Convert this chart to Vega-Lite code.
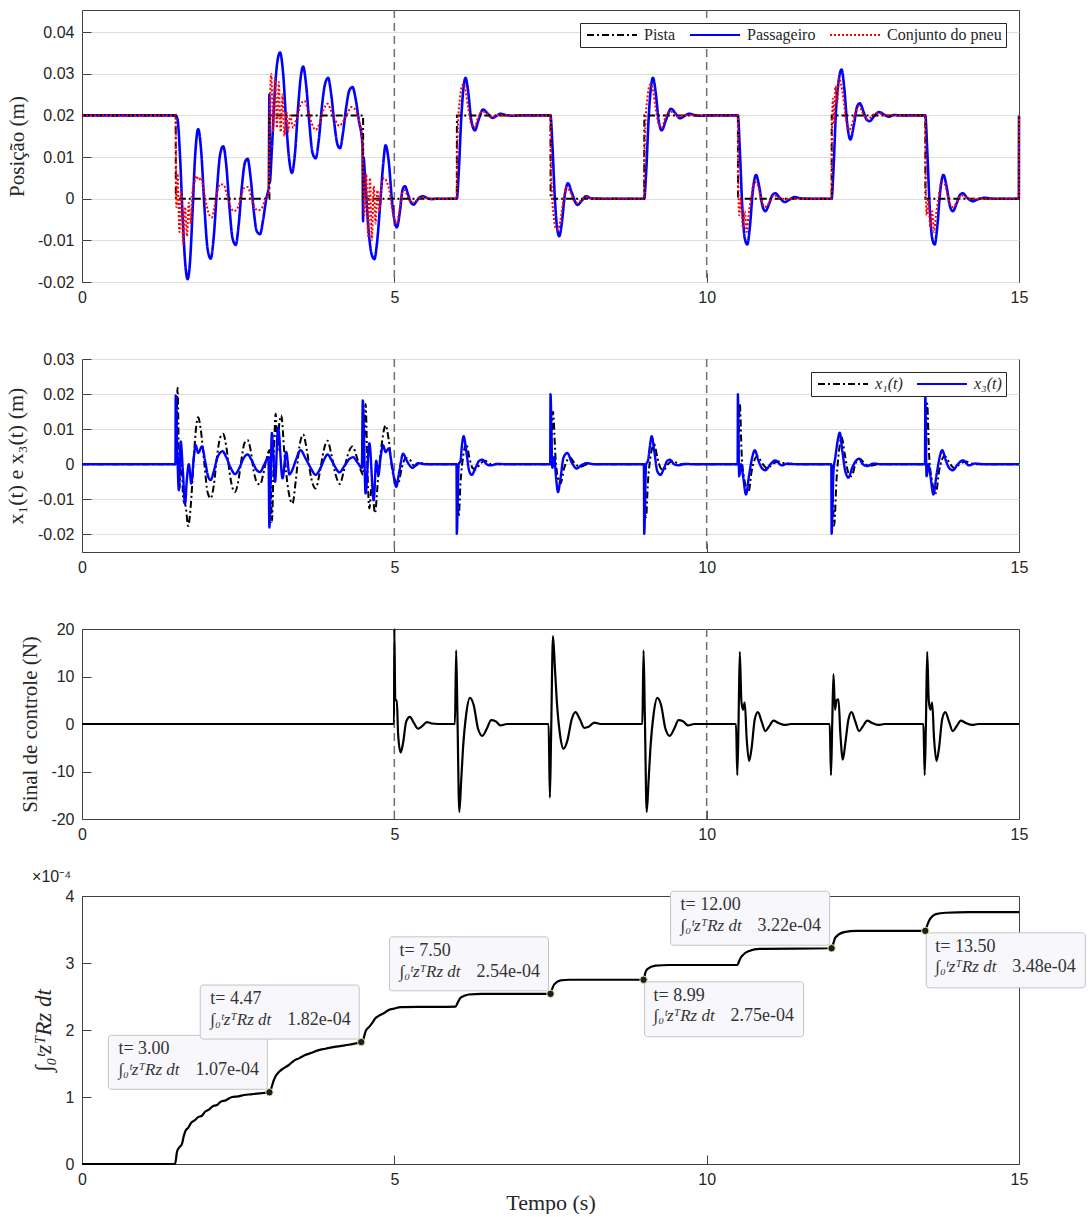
{
  "$schema": "https://vega.github.io/schema/vega-lite/v6.json",
  "background": "white",
  "padding": {"left": 4, "top": 8, "right": 0, "bottom": 0},
  "spacing": 77,
  "bounds": "flush",
  "resolve": {"scale": {"color": "independent", "strokeDash": "independent"}},
  "config": {
    "view": {"stroke": "#404040", "strokeWidth": 1},
    "axis": {"domain": false, "grid": false, "tickSize": -9, "tickColor": "#404040", "tickWidth": 1, "labelFont": "Liberation Sans", "labelFontSize": 16, "labelColor": "#262626", "labelPadding": 17, "labelOverlap": false, "titleFont": "Liberation Serif", "titleFontSize": 21, "titleFontWeight": "normal", "titleColor": "#262626", "gridColor": "#dedede", "gridWidth": 1},
    "axisX": {"labelFlush": false, "labelPadding": 16},
    "axisY": {"titlePadding": 10, "labelOverlap": false},
    "legend": {"orient": "top-right", "offset": 13, "direction": "horizontal", "fillColor": "white", "strokeColor": "#262626", "padding": 4, "symbolType": "M-1,0H9", "symbolSize": 100, "symbolStrokeWidth": 2, "labelFont": "Liberation Serif", "labelFontSize": 16, "labelColor": "#262626", "columnPadding": 10, "labelOffset": 44}
  },
  "datasets": {
    "vl": [{"t": 5}, {"t": 10}],
    "p1_pista": [{"t":0,"v":0.02},{"t":1.5,"v":0.02},{"t":1.502,"v":0},{"t":3.0,"v":0},{"t":3.002,"v":0.02},{"t":4.5,"v":0.02},{"t":4.502,"v":0},{"t":6.0,"v":0},{"t":6.002,"v":0.02},{"t":7.5,"v":0.02},{"t":7.502,"v":0},{"t":9.0,"v":0},{"t":9.002,"v":0.02},{"t":10.5,"v":0.02},{"t":10.502,"v":0},{"t":12.0,"v":0},{"t":12.002,"v":0.02},{"t":13.5,"v":0.02},{"t":13.502,"v":0},{"t":14.998,"v":0},{"t":15,"v":0.02}],
    "p1_pass": [{"t":0,"v":0.02},{"t":1.5,"v":0.02},{"t":1.53,"v":0.019},{"t":1.57,"v":0.01},{"t":1.61,"v":-0.004},{"t":1.65,"v":-0.015},{"t":1.69,"v":-0.0193},{"t":1.73,"v":-0.015},{"t":1.77,"v":-0.003},{"t":1.81,"v":0.01},{"t":1.86,"v":0.0167},{"t":1.91,"v":0.011},{"t":1.96,"v":-0.002},{"t":2.01,"v":-0.012},{"t":2.06,"v":-0.0144},{"t":2.11,"v":-0.009},{"t":2.16,"v":0.002},{"t":2.21,"v":0.0105},{"t":2.26,"v":0.0126},{"t":2.31,"v":0.008},{"t":2.36,"v":-0.002},{"t":2.41,"v":-0.0095},{"t":2.46,"v":-0.0111},{"t":2.51,"v":-0.006},{"t":2.56,"v":0.003},{"t":2.61,"v":0.0088},{"t":2.65,"v":0.0096},{"t":2.7,"v":0.005},{"t":2.75,"v":-0.003},{"t":2.8,"v":-0.0079},{"t":2.85,"v":-0.0085},{"t":2.9,"v":-0.005},{"t":2.95,"v":0.0},{"t":2.99,"v":0.003},{"t":3.0,"v":0.025},{"t":3.005,"v":0.004},{"t":3.04,"v":0.012},{"t":3.08,"v":0.024},{"t":3.12,"v":0.032},{"t":3.17,"v":0.0351},{"t":3.22,"v":0.03},{"t":3.27,"v":0.018},{"t":3.32,"v":0.009},{"t":3.36,"v":0.0062},{"t":3.41,"v":0.011},{"t":3.46,"v":0.022},{"t":3.5,"v":0.029},{"t":3.54,"v":0.0317},{"t":3.59,"v":0.027},{"t":3.64,"v":0.018},{"t":3.69,"v":0.011},{"t":3.74,"v":0.0097},{"t":3.79,"v":0.014},{"t":3.84,"v":0.022},{"t":3.89,"v":0.0275},{"t":3.94,"v":0.029},{"t":3.99,"v":0.025},{"t":4.04,"v":0.018},{"t":4.09,"v":0.013},{"t":4.13,"v":0.0121},{"t":4.18,"v":0.016},{"t":4.23,"v":0.022},{"t":4.28,"v":0.026},{"t":4.33,"v":0.0268},{"t":4.38,"v":0.024},{"t":4.43,"v":0.019},{"t":4.49,"v":0.013},{"t":4.5,"v":-0.0054},{"t":4.505,"v":0.01},{"t":4.54,"v":0.003},{"t":4.59,"v":-0.008},{"t":4.64,"v":-0.0135},{"t":4.68,"v":-0.0145},{"t":4.72,"v":-0.011},{"t":4.77,"v":-0.002},{"t":4.82,"v":0.008},{"t":4.86,"v":0.0128},{"t":4.91,"v":0.009},{"t":4.96,"v":0.0},{"t":5.0,"v":-0.005},{"t":5.04,"v":-0.0069},{"t":5.09,"v":-0.003},{"t":5.13,"v":0.002},{"t":5.17,"v":0.003},{"t":5.22,"v":0.001},{"t":5.27,"v":-0.001},{"t":5.31,"v":-0.0014},{"t":5.36,"v":-0.0005},{"t":5.41,"v":0.0004},{"t":5.46,"v":0.0006},{"t":5.52,"v":0.0002},{"t":5.6,"v":-0.0001},{"t":5.7,"v":0},{"t":6.0,"v":0},{"t":6.03,"v":0.006},{"t":6.07,"v":0.019},{"t":6.11,"v":0.027},{"t":6.14,"v":0.029},{"t":6.18,"v":0.026},{"t":6.23,"v":0.019},{"t":6.29,"v":0.0164},{"t":6.35,"v":0.019},{"t":6.42,"v":0.0214},{"t":6.49,"v":0.0205},{"t":6.57,"v":0.0194},{"t":6.63,"v":0.0198},{"t":6.7,"v":0.0204},{"t":6.78,"v":0.0201},{"t":6.9,"v":0.0199},{"t":7.0,"v":0.02},{"t":7.5,"v":0.02},{"t":7.53,"v":0.013},{"t":7.57,"v":0.0},{"t":7.61,"v":-0.0075},{"t":7.64,"v":-0.009},{"t":7.68,"v":-0.006},{"t":7.73,"v":0.001},{"t":7.78,"v":0.0037},{"t":7.84,"v":0.0015},{"t":7.93,"v":-0.0015},{"t":8.0,"v":-0.0005},{"t":8.07,"v":0.0006},{"t":8.15,"v":0.0001},{"t":8.3,"v":0},{"t":9.0,"v":0},{"t":9.03,"v":0.006},{"t":9.07,"v":0.019},{"t":9.11,"v":0.027},{"t":9.14,"v":0.029},{"t":9.18,"v":0.026},{"t":9.23,"v":0.019},{"t":9.28,"v":0.0164},{"t":9.35,"v":0.019},{"t":9.43,"v":0.0216},{"t":9.5,"v":0.0205},{"t":9.57,"v":0.0193},{"t":9.64,"v":0.0198},{"t":9.72,"v":0.0204},{"t":9.8,"v":0.0201},{"t":9.9,"v":0.0199},{"t":10.0,"v":0.02},{"t":10.5,"v":0.02},{"t":10.53,"v":0.012},{"t":10.57,"v":-0.002},{"t":10.61,"v":-0.0095},{"t":10.65,"v":-0.011},{"t":10.69,"v":-0.007},{"t":10.74,"v":0.002},{"t":10.79,"v":0.0057},{"t":10.84,"v":0.003},{"t":10.89,"v":-0.0015},{"t":10.94,"v":-0.003},{"t":11.0,"v":-0.0012},{"t":11.05,"v":0.0008},{"t":11.1,"v":0.0013},{"t":11.17,"v":0.0002},{"t":11.25,"v":-0.0008},{"t":11.33,"v":-0.0002},{"t":11.41,"v":0.0004},{"t":11.5,"v":0.0001},{"t":11.6,"v":0},{"t":12.0,"v":0},{"t":12.03,"v":0.007},{"t":12.07,"v":0.021},{"t":12.12,"v":0.029},{"t":12.16,"v":0.031},{"t":12.2,"v":0.027},{"t":12.25,"v":0.018},{"t":12.3,"v":0.0142},{"t":12.36,"v":0.018},{"t":12.41,"v":0.0222},{"t":12.45,"v":0.0229},{"t":12.52,"v":0.0205},{"t":12.56,"v":0.019},{"t":12.61,"v":0.0186},{"t":12.68,"v":0.0198},{"t":12.76,"v":0.0208},{"t":12.84,"v":0.0202},{"t":12.92,"v":0.0197},{"t":13.0,"v":0.0201},{"t":13.1,"v":0.02},{"t":13.5,"v":0.02},{"t":13.53,"v":0.012},{"t":13.57,"v":-0.002},{"t":13.61,"v":-0.0095},{"t":13.65,"v":-0.011},{"t":13.69,"v":-0.007},{"t":13.74,"v":0.002},{"t":13.79,"v":0.0057},{"t":13.84,"v":0.003},{"t":13.89,"v":-0.0015},{"t":13.94,"v":-0.003},{"t":14.0,"v":-0.0012},{"t":14.05,"v":0.0008},{"t":14.1,"v":0.0013},{"t":14.17,"v":0.0002},{"t":14.26,"v":-0.0006},{"t":14.35,"v":-0.0001},{"t":14.45,"v":0.0002},{"t":14.6,"v":0},{"t":14.998,"v":0},{"t":15,"v":0.02}],
    "p1_pneu": [{"t":0,"v":0.02},{"t":1.5,"v":0.02},{"t":1.505,"v":0.01},{"t":1.51,"v":-0.002},{"t":1.53,"v":0.006},{"t":1.56,"v":-0.008},{"t":1.59,"v":0.002},{"t":1.62,"v":-0.011},{"t":1.65,"v":-0.002},{"t":1.68,"v":-0.009},{"t":1.71,"v":-0.001},{"t":1.74,"v":-0.006},{"t":1.77,"v":0.002},{"t":1.8,"v":0.004},{"t":1.83,"v":0.0055},{"t":1.87,"v":0.0045},{"t":1.91,"v":0.005},{"t":1.95,"v":0.002},{"t":2.0,"v":-0.002},{"t":2.04,"v":-0.004},{"t":2.08,"v":-0.0045},{"t":2.12,"v":-0.002},{"t":2.17,"v":0.002},{"t":2.22,"v":0.0035},{"t":2.27,"v":0.0033},{"t":2.32,"v":0.001},{"t":2.38,"v":-0.002},{"t":2.43,"v":-0.003},{"t":2.48,"v":-0.0025},{"t":2.54,"v":0.0},{"t":2.59,"v":0.0025},{"t":2.65,"v":0.0028},{"t":2.7,"v":0.001},{"t":2.76,"v":-0.002},{"t":2.82,"v":-0.0028},{"t":2.88,"v":-0.0022},{"t":2.94,"v":0.0},{"t":2.99,"v":0.001},{"t":3.005,"v":0.02},{"t":3.03,"v":0.03},{"t":3.06,"v":0.016},{"t":3.09,"v":0.029},{"t":3.12,"v":0.017},{"t":3.15,"v":0.028},{"t":3.18,"v":0.016},{"t":3.21,"v":0.025},{"t":3.24,"v":0.015},{"t":3.27,"v":0.021},{"t":3.3,"v":0.016},{"t":3.33,"v":0.02},{"t":3.38,"v":0.017},{"t":3.43,"v":0.019},{"t":3.5,"v":0.0225},{"t":3.56,"v":0.0235},{"t":3.62,"v":0.021},{"t":3.68,"v":0.018},{"t":3.74,"v":0.0165},{"t":3.8,"v":0.018},{"t":3.87,"v":0.0215},{"t":3.93,"v":0.0228},{"t":3.99,"v":0.021},{"t":4.05,"v":0.019},{"t":4.12,"v":0.0175},{"t":4.18,"v":0.0185},{"t":4.25,"v":0.0205},{"t":4.31,"v":0.022},{"t":4.37,"v":0.0215},{"t":4.43,"v":0.019},{"t":4.48,"v":0.015},{"t":4.505,"v":0.005},{"t":4.52,"v":-0.004},{"t":4.55,"v":0.006},{"t":4.58,"v":-0.009},{"t":4.61,"v":0.005},{"t":4.64,"v":-0.01},{"t":4.67,"v":0.003},{"t":4.7,"v":-0.006},{"t":4.73,"v":0.002},{"t":4.76,"v":-0.003},{"t":4.8,"v":0.004},{"t":4.84,"v":0.005},{"t":4.88,"v":0.004},{"t":4.92,"v":0.002},{"t":4.96,"v":-0.002},{"t":5.0,"v":-0.005},{"t":5.04,"v":-0.006},{"t":5.08,"v":-0.003},{"t":5.12,"v":0.001},{"t":5.16,"v":0.002},{"t":5.2,"v":0.001},{"t":5.27,"v":-0.001},{"t":5.35,"v":-0.0005},{"t":5.45,"v":0.0004},{"t":5.6,"v":0},{"t":6.0,"v":0},{"t":6.005,"v":0.01},{"t":6.02,"v":0.018},{"t":6.05,"v":0.024},{"t":6.08,"v":0.027},{"t":6.11,"v":0.0275},{"t":6.14,"v":0.026},{"t":6.18,"v":0.022},{"t":6.23,"v":0.018},{"t":6.28,"v":0.017},{"t":6.34,"v":0.0195},{"t":6.41,"v":0.021},{"t":6.48,"v":0.0205},{"t":6.56,"v":0.0196},{"t":6.65,"v":0.0201},{"t":6.8,"v":0.02},{"t":7.5,"v":0.02},{"t":7.505,"v":0.01},{"t":7.52,"v":0.002},{"t":7.55,"v":-0.004},{"t":7.58,"v":-0.007},{"t":7.62,"v":-0.0075},{"t":7.66,"v":-0.005},{"t":7.71,"v":0.0},{"t":7.76,"v":0.0028},{"t":7.82,"v":0.0015},{"t":7.9,"v":-0.001},{"t":7.98,"v":-0.0006},{"t":8.06,"v":0.0004},{"t":8.2,"v":0},{"t":9.0,"v":0},{"t":9.005,"v":0.01},{"t":9.02,"v":0.018},{"t":9.05,"v":0.024},{"t":9.08,"v":0.027},{"t":9.11,"v":0.0275},{"t":9.14,"v":0.026},{"t":9.18,"v":0.022},{"t":9.23,"v":0.018},{"t":9.28,"v":0.017},{"t":9.34,"v":0.0195},{"t":9.41,"v":0.021},{"t":9.48,"v":0.0205},{"t":9.56,"v":0.0196},{"t":9.65,"v":0.0201},{"t":9.8,"v":0.02},{"t":10.5,"v":0.02},{"t":10.505,"v":0.008},{"t":10.52,"v":-0.004},{"t":10.55,"v":0.0},{"t":10.58,"v":-0.007},{"t":10.61,"v":-0.003},{"t":10.64,"v":-0.008},{"t":10.67,"v":-0.004},{"t":10.71,"v":0.0},{"t":10.76,"v":0.004},{"t":10.81,"v":0.0035},{"t":10.87,"v":0.0},{"t":10.93,"v":-0.002},{"t":11.0,"v":-0.001},{"t":11.08,"v":0.0008},{"t":11.2,"v":0},{"t":12.0,"v":0},{"t":12.005,"v":0.012},{"t":12.02,"v":0.024},{"t":12.04,"v":0.018},{"t":12.06,"v":0.027},{"t":12.09,"v":0.023},{"t":12.12,"v":0.029},{"t":12.15,"v":0.0275},{"t":12.19,"v":0.024},{"t":12.23,"v":0.019},{"t":12.28,"v":0.0165},{"t":12.33,"v":0.018},{"t":12.39,"v":0.021},{"t":12.44,"v":0.0222},{"t":12.5,"v":0.0205},{"t":12.58,"v":0.019},{"t":12.66,"v":0.0201},{"t":12.75,"v":0.0206},{"t":12.85,"v":0.02},{"t":13.5,"v":0.02},{"t":13.505,"v":0.008},{"t":13.52,"v":-0.004},{"t":13.55,"v":0.0},{"t":13.58,"v":-0.007},{"t":13.61,"v":-0.003},{"t":13.64,"v":-0.008},{"t":13.67,"v":-0.004},{"t":13.71,"v":0.0},{"t":13.76,"v":0.004},{"t":13.81,"v":0.0035},{"t":13.87,"v":0.0},{"t":13.93,"v":-0.002},{"t":14.0,"v":-0.001},{"t":14.08,"v":0.0008},{"t":14.2,"v":0},{"t":14.998,"v":0},{"t":15,"v":0.02}],
    "p2_x3": [{"t":0,"v":0},{"t":1.495,"v":0},{"t":1.5,"v":0.0196},{"t":1.525,"v":0.004},{"t":1.55,"v":-0.0074},{"t":1.58,"v":0.0065},{"t":1.615,"v":-0.002},{"t":1.65,"v":-0.0112},{"t":1.68,"v":-0.004},{"t":1.71,"v":0.0},{"t":1.75,"v":-0.0055},{"t":1.79,"v":0.002},{"t":1.82,"v":0.0054},{"t":1.86,"v":0.0032},{"t":1.92,"v":0.0051},{"t":1.97,"v":0.001},{"t":2.02,"v":-0.0035},{"t":2.06,"v":-0.0045},{"t":2.11,"v":-0.002},{"t":2.17,"v":0.002},{"t":2.25,"v":0.0037},{"t":2.31,"v":0.002},{"t":2.38,"v":-0.001},{"t":2.45,"v":-0.0028},{"t":2.52,"v":-0.001},{"t":2.58,"v":0.0015},{"t":2.65,"v":0.0028},{"t":2.72,"v":0.001},{"t":2.79,"v":-0.0015},{"t":2.85,"v":-0.0022},{"t":2.92,"v":0.0},{"t":2.985,"v":0.002},{"t":3.0,"v":-0.018},{"t":3.04,"v":0.0089},{"t":3.09,"v":-0.005},{"t":3.14,"v":0.0104},{"t":3.21,"v":-0.004},{"t":3.27,"v":0.0035},{"t":3.32,"v":-0.0029},{"t":3.37,"v":-0.0015},{"t":3.42,"v":0.001},{"t":3.5,"v":0.004},{"t":3.57,"v":0.002},{"t":3.66,"v":-0.001},{"t":3.74,"v":-0.003},{"t":3.82,"v":-0.001},{"t":3.88,"v":0.0015},{"t":3.93,"v":0.0028},{"t":4.0,"v":0.001},{"t":4.06,"v":-0.001},{"t":4.12,"v":-0.0023},{"t":4.2,"v":-0.0005},{"t":4.28,"v":0.0015},{"t":4.34,"v":0.002},{"t":4.41,"v":0.0005},{"t":4.48,"v":-0.001},{"t":4.495,"v":0.0182},{"t":4.54,"v":-0.0083},{"t":4.6,"v":0.006},{"t":4.67,"v":-0.0102},{"t":4.71,"v":0.001},{"t":4.745,"v":-0.003},{"t":4.78,"v":0.002},{"t":4.82,"v":0.0054},{"t":4.86,"v":0.0035},{"t":4.91,"v":0.0045},{"t":4.96,"v":0.0},{"t":5.03,"v":-0.0064},{"t":5.08,"v":-0.002},{"t":5.14,"v":0.003},{"t":5.2,"v":0.001},{"t":5.29,"v":-0.001},{"t":5.38,"v":0.0003},{"t":5.5,"v":0},{"t":5.995,"v":0},{"t":6.0,"v":-0.0198},{"t":6.03,"v":0.0},{"t":6.06,"v":0.001},{"t":6.08,"v":0.005},{"t":6.11,"v":0.008},{"t":6.15,"v":0.004},{"t":6.2,"v":-0.002},{"t":6.24,"v":-0.003},{"t":6.3,"v":-0.001},{"t":6.36,"v":0.001},{"t":6.41,"v":0.0013},{"t":6.48,"v":0.0},{"t":6.54,"v":-0.0003},{"t":6.65,"v":0.0001},{"t":6.8,"v":0},{"t":7.495,"v":0},{"t":7.5,"v":0.02},{"t":7.53,"v":-0.001},{"t":7.56,"v":0.002},{"t":7.59,"v":-0.004},{"t":7.62,"v":-0.0079},{"t":7.66,"v":-0.004},{"t":7.71,"v":0.002},{"t":7.77,"v":0.0032},{"t":7.84,"v":0.0005},{"t":7.92,"v":-0.0012},{"t":8.0,"v":-0.0002},{"t":8.08,"v":0.0003},{"t":8.2,"v":0},{"t":8.995,"v":0},{"t":9.0,"v":-0.0198},{"t":9.03,"v":0.0},{"t":9.06,"v":0.001},{"t":9.09,"v":0.005},{"t":9.12,"v":0.008},{"t":9.16,"v":0.004},{"t":9.21,"v":-0.002},{"t":9.26,"v":-0.003},{"t":9.32,"v":-0.001},{"t":9.37,"v":0.001},{"t":9.41,"v":0.0013},{"t":9.48,"v":0.0},{"t":9.55,"v":-0.0003},{"t":9.65,"v":0.0001},{"t":9.8,"v":0},{"t":10.495,"v":0},{"t":10.5,"v":0.02},{"t":10.52,"v":-0.0034},{"t":10.55,"v":0.0},{"t":10.58,"v":-0.003},{"t":10.63,"v":-0.0086},{"t":10.68,"v":-0.003},{"t":10.73,"v":0.002},{"t":10.77,"v":0.004},{"t":10.83,"v":0.001},{"t":10.88,"v":-0.001},{"t":10.94,"v":-0.0017},{"t":11.02,"v":0.0},{"t":11.1,"v":0.0011},{"t":11.2,"v":-0.0003},{"t":11.3,"v":0.0002},{"t":11.45,"v":0},{"t":11.995,"v":0},{"t":12.0,"v":-0.0198},{"t":12.03,"v":-0.002},{"t":12.06,"v":0.002},{"t":12.1,"v":0.007},{"t":12.13,"v":0.009},{"t":12.17,"v":0.004},{"t":12.22,"v":-0.002},{"t":12.27,"v":-0.0038},{"t":12.33,"v":-0.001},{"t":12.39,"v":0.001},{"t":12.44,"v":0.0016},{"t":12.5,"v":0.0},{"t":12.57,"v":-0.0005},{"t":12.67,"v":0.0002},{"t":12.8,"v":0},{"t":13.495,"v":0},{"t":13.5,"v":0.02},{"t":13.52,"v":-0.0034},{"t":13.55,"v":0.0},{"t":13.58,"v":-0.003},{"t":13.63,"v":-0.0086},{"t":13.68,"v":-0.003},{"t":13.73,"v":0.002},{"t":13.77,"v":0.004},{"t":13.83,"v":0.001},{"t":13.88,"v":-0.001},{"t":13.94,"v":-0.0017},{"t":14.02,"v":0.0},{"t":14.1,"v":0.0011},{"t":14.2,"v":-0.0003},{"t":14.3,"v":0.0002},{"t":14.45,"v":0},{"t":15,"v":0}],
    "p2_x1": [{"t":0,"v":0},{"t":1.5,"v":0},{"t":1.53,"v":0.0218},{"t":1.56,"v":-0.007},{"t":1.59,"v":0.004},{"t":1.62,"v":-0.01},{"t":1.66,"v":-0.012},{"t":1.7,"v":-0.0176},{"t":1.74,"v":-0.012},{"t":1.79,"v":0.002},{"t":1.83,"v":0.011},{"t":1.86,"v":0.0134},{"t":1.9,"v":0.01},{"t":1.96,"v":0.0},{"t":2.01,"v":-0.008},{"t":2.06,"v":-0.0097},{"t":2.11,"v":-0.006},{"t":2.16,"v":0.002},{"t":2.21,"v":0.0075},{"t":2.26,"v":0.0087},{"t":2.31,"v":0.005},{"t":2.36,"v":-0.002},{"t":2.41,"v":-0.0068},{"t":2.45,"v":-0.0079},{"t":2.5,"v":-0.005},{"t":2.55,"v":0.001},{"t":2.6,"v":0.006},{"t":2.65,"v":0.0069},{"t":2.7,"v":0.004},{"t":2.75,"v":-0.002},{"t":2.8,"v":-0.0052},{"t":2.85,"v":-0.0058},{"t":2.9,"v":-0.003},{"t":2.96,"v":0.002},{"t":3.0,"v":0.004},{"t":3.02,"v":-0.003},{"t":3.04,"v":-0.0164},{"t":3.07,"v":0.002},{"t":3.1,"v":0.0144},{"t":3.13,"v":0.004},{"t":3.16,"v":0.012},{"t":3.19,"v":0.0139},{"t":3.24,"v":0.003},{"t":3.3,"v":-0.007},{"t":3.37,"v":-0.0112},{"t":3.42,"v":-0.005},{"t":3.48,"v":0.005},{"t":3.54,"v":0.0085},{"t":3.6,"v":0.004},{"t":3.67,"v":-0.004},{"t":3.74,"v":-0.0069},{"t":3.8,"v":-0.003},{"t":3.87,"v":0.004},{"t":3.93,"v":0.0067},{"t":3.99,"v":0.003},{"t":4.06,"v":-0.003},{"t":4.13,"v":-0.0056},{"t":4.19,"v":-0.002},{"t":4.26,"v":0.003},{"t":4.33,"v":0.0051},{"t":4.4,"v":0.002},{"t":4.47,"v":-0.002},{"t":4.5,"v":-0.003},{"t":4.54,"v":0.0172},{"t":4.57,"v":-0.002},{"t":4.6,"v":-0.0126},{"t":4.64,"v":-0.006},{"t":4.69,"v":-0.0139},{"t":4.74,"v":-0.004},{"t":4.8,"v":0.006},{"t":4.86,"v":0.0111},{"t":4.91,"v":0.007},{"t":4.97,"v":-0.002},{"t":5.03,"v":-0.005},{"t":5.06,"v":-0.0055},{"t":5.12,"v":-0.001},{"t":5.18,"v":0.0018},{"t":5.24,"v":0.0015},{"t":5.32,"v":-0.0005},{"t":5.42,"v":0.0003},{"t":5.6,"v":0},{"t":6.0,"v":0},{"t":6.03,"v":-0.015},{"t":6.06,"v":-0.005},{"t":6.1,"v":0.002},{"t":6.15,"v":0.0059},{"t":6.2,"v":0.002},{"t":6.25,"v":-0.001},{"t":6.3,"v":-0.0015},{"t":6.37,"v":0.0},{"t":6.45,"v":0.001},{"t":6.55,"v":0.0},{"t":6.7,"v":0},{"t":7.5,"v":0},{"t":7.54,"v":0.015},{"t":7.58,"v":0.002},{"t":7.62,"v":-0.004},{"t":7.66,"v":-0.0055},{"t":7.72,"v":-0.001},{"t":7.81,"v":0.0019},{"t":7.9,"v":0.0},{"t":7.98,"v":-0.0007},{"t":8.1,"v":0.0001},{"t":8.3,"v":0},{"t":9.0,"v":0},{"t":9.03,"v":-0.015},{"t":9.06,"v":-0.005},{"t":9.1,"v":0.002},{"t":9.16,"v":0.0057},{"t":9.21,"v":0.002},{"t":9.26,"v":-0.001},{"t":9.31,"v":-0.0017},{"t":9.38,"v":0.0},{"t":9.46,"v":0.001},{"t":9.56,"v":0.0},{"t":9.7,"v":0},{"t":10.5,"v":0},{"t":10.53,"v":0.0173},{"t":10.56,"v":0.003},{"t":10.6,"v":-0.004},{"t":10.67,"v":-0.0079},{"t":10.72,"v":-0.002},{"t":10.81,"v":0.0023},{"t":10.9,"v":0.0},{"t":10.97,"v":-0.0012},{"t":11.05,"v":0.0},{"t":11.15,"v":0.0008},{"t":11.3,"v":0},{"t":12.0,"v":0},{"t":12.04,"v":-0.0175},{"t":12.08,"v":-0.004},{"t":12.12,"v":0.004},{"t":12.16,"v":0.0078},{"t":12.21,"v":0.003},{"t":12.27,"v":-0.0025},{"t":12.32,"v":-0.0034},{"t":12.38,"v":0.0},{"t":12.45,"v":0.0016},{"t":12.54,"v":0.0},{"t":12.62,"v":-0.0004},{"t":12.75,"v":0},{"t":13.5,"v":0},{"t":13.53,"v":0.0173},{"t":13.56,"v":0.003},{"t":13.6,"v":-0.004},{"t":13.67,"v":-0.0082},{"t":13.72,"v":-0.002},{"t":13.81,"v":0.0023},{"t":13.9,"v":0.0},{"t":13.97,"v":-0.0012},{"t":14.05,"v":0.0},{"t":14.15,"v":0.0008},{"t":14.3,"v":0},{"t":15,"v":0}],
    "p3": [{"t":0,"v":0},{"t":4.995,"v":0},{"t":5.0,"v":20},{"t":5.015,"v":5},{"t":5.04,"v":5},{"t":5.06,"v":-2},{"t":5.1,"v":-6},{"t":5.14,"v":-4},{"t":5.19,"v":0.5},{"t":5.25,"v":1.5},{"t":5.31,"v":0.3},{"t":5.38,"v":-1},{"t":5.45,"v":-0.4},{"t":5.52,"v":0.4},{"t":5.6,"v":0.1},{"t":5.7,"v":0},{"t":5.97,"v":0},{"t":5.99,"v":15.5},{"t":6.01,"v":2},{"t":6.04,"v":-18.5},{"t":6.07,"v":-12},{"t":6.1,"v":-5},{"t":6.15,"v":2},{"t":6.21,"v":5.5},{"t":6.27,"v":4},{"t":6.34,"v":-1},{"t":6.41,"v":-2.5},{"t":6.48,"v":-1},{"t":6.55,"v":0.8},{"t":6.62,"v":0.6},{"t":6.7,"v":-0.3},{"t":6.8,"v":0},{"t":7.47,"v":0},{"t":7.49,"v":-15.5},{"t":7.51,"v":-2},{"t":7.54,"v":18.5},{"t":7.57,"v":12},{"t":7.6,"v":5},{"t":7.65,"v":-2},{"t":7.71,"v":-5.2},{"t":7.77,"v":-3.5},{"t":7.84,"v":1},{"t":7.9,"v":2.5},{"t":7.97,"v":1},{"t":8.04,"v":-0.8},{"t":8.11,"v":-0.6},{"t":8.2,"v":0.3},{"t":8.3,"v":0},{"t":8.97,"v":0},{"t":8.99,"v":15.5},{"t":9.01,"v":2},{"t":9.04,"v":-18.5},{"t":9.07,"v":-12},{"t":9.1,"v":-5},{"t":9.15,"v":2},{"t":9.21,"v":5.5},{"t":9.27,"v":4},{"t":9.34,"v":-1},{"t":9.41,"v":-2.5},{"t":9.48,"v":-1},{"t":9.55,"v":0.8},{"t":9.62,"v":0.6},{"t":9.7,"v":-0.3},{"t":9.8,"v":0},{"t":10.47,"v":0},{"t":10.49,"v":-10.8},{"t":10.51,"v":0},{"t":10.53,"v":15.2},{"t":10.555,"v":5},{"t":10.58,"v":3},{"t":10.61,"v":4.5},{"t":10.64,"v":-3},{"t":10.68,"v":-7.8},{"t":10.72,"v":-5},{"t":10.77,"v":1},{"t":10.82,"v":2.5},{"t":10.88,"v":0.5},{"t":10.94,"v":-1.5},{"t":11.0,"v":-0.5},{"t":11.07,"v":0.7},{"t":11.15,"v":0.2},{"t":11.25,"v":-0.2},{"t":11.35,"v":0},{"t":11.97,"v":0},{"t":11.99,"v":-10.8},{"t":12.01,"v":0},{"t":12.03,"v":10.5},{"t":12.055,"v":3},{"t":12.08,"v":5},{"t":12.11,"v":5.2},{"t":12.14,"v":-2},{"t":12.18,"v":-7.5},{"t":12.22,"v":-4},{"t":12.27,"v":1},{"t":12.32,"v":2.5},{"t":12.38,"v":0.5},{"t":12.44,"v":-1.5},{"t":12.5,"v":-0.5},{"t":12.57,"v":0.7},{"t":12.65,"v":0.2},{"t":12.75,"v":-0.2},{"t":12.85,"v":0},{"t":13.47,"v":0},{"t":13.49,"v":-10.8},{"t":13.51,"v":0},{"t":13.53,"v":15.2},{"t":13.555,"v":5},{"t":13.58,"v":3},{"t":13.61,"v":4.5},{"t":13.64,"v":-3},{"t":13.68,"v":-7.8},{"t":13.72,"v":-5},{"t":13.77,"v":1},{"t":13.82,"v":2.5},{"t":13.88,"v":0.5},{"t":13.94,"v":-1.5},{"t":14.0,"v":-0.5},{"t":14.07,"v":0.7},{"t":14.15,"v":0.2},{"t":14.25,"v":-0.2},{"t":14.35,"v":0},{"t":15,"v":0}],
    "p4": [{"t":0,"v":0},{"t":1.49,"v":0},{"t":1.52,"v":0.18e-4},{"t":1.55,"v":0.24e-4},{"t":1.6,"v":0.3e-4},{"t":1.63,"v":0.42e-4},{"t":1.66,"v":0.5e-4},{"t":1.7,"v":0.54e-4},{"t":1.75,"v":0.62e-4},{"t":1.8,"v":0.65e-4},{"t":1.86,"v":0.7e-4},{"t":1.92,"v":0.72e-4},{"t":1.97,"v":0.78e-4},{"t":2.03,"v":0.81e-4},{"t":2.09,"v":0.86e-4},{"t":2.16,"v":0.88e-4},{"t":2.22,"v":0.93e-4},{"t":2.3,"v":0.95e-4},{"t":2.4,"v":1.0e-4},{"t":2.5,"v":1.01e-4},{"t":2.6,"v":1.03e-4},{"t":2.7,"v":1.04e-4},{"t":2.8,"v":1.05e-4},{"t":2.9,"v":1.06e-4},{"t":3.0,"v":1.07e-4},{"t":3.03,"v":1.13e-4},{"t":3.07,"v":1.25e-4},{"t":3.1,"v":1.31e-4},{"t":3.16,"v":1.38e-4},{"t":3.23,"v":1.43e-4},{"t":3.3,"v":1.47e-4},{"t":3.39,"v":1.54e-4},{"t":3.48,"v":1.58e-4},{"t":3.58,"v":1.63e-4},{"t":3.68,"v":1.66e-4},{"t":3.79,"v":1.70e-4},{"t":3.9,"v":1.72e-4},{"t":4.0,"v":1.74e-4},{"t":4.13,"v":1.76e-4},{"t":4.27,"v":1.78e-4},{"t":4.38,"v":1.8e-4},{"t":4.47,"v":1.82e-4},{"t":4.5,"v":1.85e-4},{"t":4.54,"v":1.98e-4},{"t":4.6,"v":2.05e-4},{"t":4.65,"v":2.11e-4},{"t":4.7,"v":2.18e-4},{"t":4.75,"v":2.21e-4},{"t":4.83,"v":2.25e-4},{"t":4.91,"v":2.30e-4},{"t":5.0,"v":2.32e-4},{"t":5.1,"v":2.34e-4},{"t":5.5,"v":2.345e-4},{"t":5.98,"v":2.35e-4},{"t":6.02,"v":2.42e-4},{"t":6.06,"v":2.48e-4},{"t":6.12,"v":2.51e-4},{"t":6.19,"v":2.53e-4},{"t":6.4,"v":2.54e-4},{"t":7.5,"v":2.54e-4},{"t":7.53,"v":2.62e-4},{"t":7.56,"v":2.68e-4},{"t":7.66,"v":2.74e-4},{"t":7.8,"v":2.75e-4},{"t":8.99,"v":2.75e-4},{"t":9.02,"v":2.86e-4},{"t":9.05,"v":2.91e-4},{"t":9.18,"v":2.96e-4},{"t":9.4,"v":2.97e-4},{"t":10.49,"v":2.97e-4},{"t":10.53,"v":3.05e-4},{"t":10.56,"v":3.10e-4},{"t":10.68,"v":3.18e-4},{"t":10.85,"v":3.21e-4},{"t":12.0,"v":3.22e-4},{"t":12.03,"v":3.30e-4},{"t":12.06,"v":3.38e-4},{"t":12.2,"v":3.46e-4},{"t":12.4,"v":3.48e-4},{"t":13.5,"v":3.48e-4},{"t":13.53,"v":3.56e-4},{"t":13.56,"v":3.63e-4},{"t":13.67,"v":3.73e-4},{"t":13.83,"v":3.75e-4},{"t":14.2,"v":3.76e-4},{"t":15,"v":3.76e-4}],
    "ann": [{"t":3.0,"v":1.07e-4,"lab":"t= 3.00","num":"1.07e-04"},{"t":4.47,"v":1.82e-4,"lab":"t= 4.47","num":"1.82e-04"},{"t":7.5,"v":2.54e-4,"lab":"t= 7.50","num":"2.54e-04"},{"t":8.99,"v":2.75e-4,"lab":"t= 8.99","num":"2.75e-04"},{"t":12.0,"v":3.22e-4,"lab":"t= 12.00","num":"3.22e-04"},{"t":13.5,"v":3.48e-4,"lab":"t= 13.50","num":"3.48e-04"}]
  },
  "vconcat": [
    {
      "width": 937, "height": 272,
      "encoding": {"x": {"field": "t", "type": "quantitative", "scale": {"domain": [0, 15], "nice": false}, "axis": {"values": [0, 5, 10, 15], "tickCount": 20, "title": null}}},
      "layer": [
        {"data": {"name": "vl"}, "mark": {"type": "rule", "color": "#707070", "strokeDash": [8, 5], "strokeWidth": 1.5}, "encoding": {}},
        {"data": {"name": "p1_pass"}, "mark": {"type": "line", "strokeWidth": 2.6, "interpolate": "monotone"},
          "encoding": {
            "y": {"field": "v", "type": "quantitative", "scale": {"domain": [-0.02, 0.0453], "nice": false, "zero": false}, "axis": {"values": [-0.02, -0.01, 0, 0.01, 0.02, 0.03, 0.04], "tickCount": 20, "labelExpr": "'' + datum.value", "labelOverlap": false, "grid": true, "title": "Posição (m)"}},
            "color": {"datum": "Passageiro", "type": "nominal", "scale": {"domain": ["Pista", "Passageiro", "Conjunto do pneu"], "range": ["#000000", "#0000ff", "#ff0000"]}, "legend": {"title": null}},
            "strokeDash": {"datum": "Passageiro", "type": "nominal", "scale": {"domain": ["Pista", "Passageiro", "Conjunto do pneu"], "range": [[7, 3, 2, 3], [1, 0], [2, 2]]}, "legend": {"title": null}}
          }},
        {"data": {"name": "p1_pista"}, "mark": {"type": "line", "strokeWidth": 2},
          "encoding": {"y": {"field": "v", "type": "quantitative"}, "color": {"datum": "Pista", "type": "nominal"}, "strokeDash": {"datum": "Pista", "type": "nominal"}}},
        {"data": {"name": "p1_pneu"}, "mark": {"type": "line", "strokeWidth": 2, "interpolate": "monotone"},
          "encoding": {"y": {"field": "v", "type": "quantitative"}, "color": {"datum": "Conjunto do pneu", "type": "nominal"}, "strokeDash": {"datum": "Conjunto do pneu", "type": "nominal"}}}
      ]
    },
    {
      "width": 937, "height": 193,
      "encoding": {"x": {"field": "t", "type": "quantitative", "scale": {"domain": [0, 15], "nice": false}, "axis": {"values": [0, 5, 10, 15], "tickCount": 20, "title": null}}},
      "layer": [
        {"data": {"name": "vl"}, "mark": {"type": "rule", "color": "#707070", "strokeDash": [8, 5], "strokeWidth": 1.5}, "encoding": {}},
        {"data": {"name": "p2_x1"}, "mark": {"type": "line", "strokeWidth": 2, "interpolate": "monotone"},
          "encoding": {
            "y": {"field": "v", "type": "quantitative", "scale": {"domain": [-0.025, 0.03], "nice": false, "zero": false}, "axis": {"values": [-0.02, -0.01, 0, 0.01, 0.02, 0.03], "tickCount": 20, "labelExpr": "'' + datum.value", "labelOverlap": false, "grid": true, "title": "x₁(t) e x₃(t) (m)", "titleFontSize": 22}},
            "color": {"datum": "x₁(t)", "type": "nominal", "scale": {"domain": ["x₁(t)", "x₃(t)"], "range": ["#000000", "#0000ff"]}, "legend": {"title": null, "labelFontStyle": "italic"}},
            "strokeDash": {"datum": "x₁(t)", "type": "nominal", "scale": {"domain": ["x₁(t)", "x₃(t)"], "range": [[7, 3, 2, 3], [1, 0]]}, "legend": {"title": null, "labelFontStyle": "italic"}}
          }},
        {"data": {"name": "p2_x3"}, "mark": {"type": "line", "strokeWidth": 2.4, "interpolate": "monotone"},
          "encoding": {"y": {"field": "v", "type": "quantitative"}, "color": {"datum": "x₃(t)", "type": "nominal"}, "strokeDash": {"datum": "x₃(t)", "type": "nominal"}}}
      ]
    },
    {
      "width": 937, "height": 190,
      "encoding": {"x": {"field": "t", "type": "quantitative", "scale": {"domain": [0, 15], "nice": false}, "axis": {"values": [0, 5, 10, 15], "tickCount": 20, "title": null}}},
      "layer": [
        {"data": {"name": "vl"}, "mark": {"type": "rule", "color": "#707070", "strokeDash": [8, 5], "strokeWidth": 1.5}, "encoding": {}},
        {"data": {"name": "p3"}, "mark": {"type": "line", "strokeWidth": 2.2, "color": "#000000", "interpolate": "monotone"},
          "encoding": {"y": {"field": "v", "type": "quantitative", "scale": {"domain": [-20, 20], "nice": false}, "axis": {"values": [-20, -10, 0, 10, 20], "tickCount": 20, "labelExpr": "'' + datum.value", "labelOverlap": false, "title": "Sinal de controle (N)"}}}}
      ]
    },
    {
      "width": 937, "height": 268,
      "title": {"text": "×10⁻⁴", "anchor": "start", "fontSize": 16, "fontWeight": "normal", "font": "Liberation Sans", "color": "#262626", "offset": 3},
      "encoding": {"x": {"field": "t", "type": "quantitative", "scale": {"domain": [0, 15], "nice": false}, "axis": {"values": [0, 5, 10, 15], "tickCount": 20, "title": "Tempo (s)", "titleFontSize": 22, "titlePadding": 5}}},
      "layer": [
        {"data": {"name": "p4"}, "mark": {"type": "line", "strokeWidth": 2.2, "color": "#000000", "interpolate": "monotone"},
          "encoding": {"y": {"field": "v", "type": "quantitative", "scale": {"domain": [0, 0.0004], "nice": false}, "axis": {"values": [0, 0.0001, 0.0002, 0.0003, 0.0004], "tickCount": 20, "labelExpr": "'' + round(datum.value * 10000)", "labelOverlap": false, "title": "∫₀ᵗzᵀRz dt", "titleFontStyle": "italic", "titleFontSize": 23}}}},
        {"data": {"name": "ann"}, "transform": [{"filter": "datum.t != 8.99 && datum.t != 13.5"}],
          "mark": {"type": "rect", "fill": "#f8f8fc", "stroke": "#c4c4c4", "strokeWidth": 1, "cornerRadius": 3, "xOffset": -161, "x2Offset": -2, "yOffset": -57, "y2Offset": -3},
          "encoding": {"x2": {"field": "t"}, "y": {"field": "v", "type": "quantitative"}, "y2": {"field": "v"}}},
        {"data": {"name": "ann"}, "transform": [{"filter": "datum.t == 8.99 || datum.t == 13.5"}],
          "mark": {"type": "rect", "fill": "#f8f8fc", "stroke": "#c4c4c4", "strokeWidth": 1, "cornerRadius": 3, "xOffset": 1, "x2Offset": 160, "yOffset": 2, "y2Offset": 57},
          "encoding": {"x2": {"field": "t"}, "y": {"field": "v", "type": "quantitative"}, "y2": {"field": "v"}}},
        {"data": {"name": "ann"}, "transform": [{"filter": "datum.t != 8.99 && datum.t != 13.5"}],
          "mark": {"type": "text", "align": "left", "baseline": "alphabetic", "dx": -151, "dy": -38, "font": "Liberation Serif", "fontSize": 18, "color": "#333333"},
          "encoding": {"y": {"field": "v", "type": "quantitative"}, "text": {"field": "lab"}}},
        {"data": {"name": "ann"}, "transform": [{"filter": "datum.t != 8.99 && datum.t != 13.5"}],
          "mark": {"type": "text", "text": "∫₀ᵗzᵀRz dt", "fontStyle": "italic", "align": "left", "baseline": "alphabetic", "dx": -151, "dy": -17, "font": "Liberation Serif", "fontSize": 17, "color": "#333333"},
          "encoding": {"y": {"field": "v", "type": "quantitative"}}},
        {"data": {"name": "ann"}, "transform": [{"filter": "datum.t != 8.99 && datum.t != 13.5"}],
          "mark": {"type": "text", "align": "left", "baseline": "alphabetic", "dx": -74, "dy": -17, "font": "Liberation Serif", "fontSize": 18, "color": "#333333"},
          "encoding": {"y": {"field": "v", "type": "quantitative"}, "text": {"field": "num"}}},
        {"data": {"name": "ann"}, "transform": [{"filter": "datum.t == 8.99 || datum.t == 13.5"}],
          "mark": {"type": "text", "align": "left", "baseline": "alphabetic", "dx": 10, "dy": 21, "font": "Liberation Serif", "fontSize": 18, "color": "#333333"},
          "encoding": {"y": {"field": "v", "type": "quantitative"}, "text": {"field": "lab"}}},
        {"data": {"name": "ann"}, "transform": [{"filter": "datum.t == 8.99 || datum.t == 13.5"}],
          "mark": {"type": "text", "text": "∫₀ᵗzᵀRz dt", "fontStyle": "italic", "align": "left", "baseline": "alphabetic", "dx": 10, "dy": 41, "font": "Liberation Serif", "fontSize": 17, "color": "#333333"},
          "encoding": {"y": {"field": "v", "type": "quantitative"}}},
        {"data": {"name": "ann"}, "transform": [{"filter": "datum.t == 8.99 || datum.t == 13.5"}],
          "mark": {"type": "text", "align": "left", "baseline": "alphabetic", "dx": 87, "dy": 41, "font": "Liberation Serif", "fontSize": 18, "color": "#333333"},
          "encoding": {"y": {"field": "v", "type": "quantitative"}, "text": {"field": "num"}}},
        {"data": {"name": "ann"}, "mark": {"type": "circle", "size": 55, "fill": "#1e1e1e", "stroke": "#e8e4a0", "strokeWidth": 1, "opacity": 1},
          "encoding": {"y": {"field": "v", "type": "quantitative"}}}
      ]
    }
  ]
}
